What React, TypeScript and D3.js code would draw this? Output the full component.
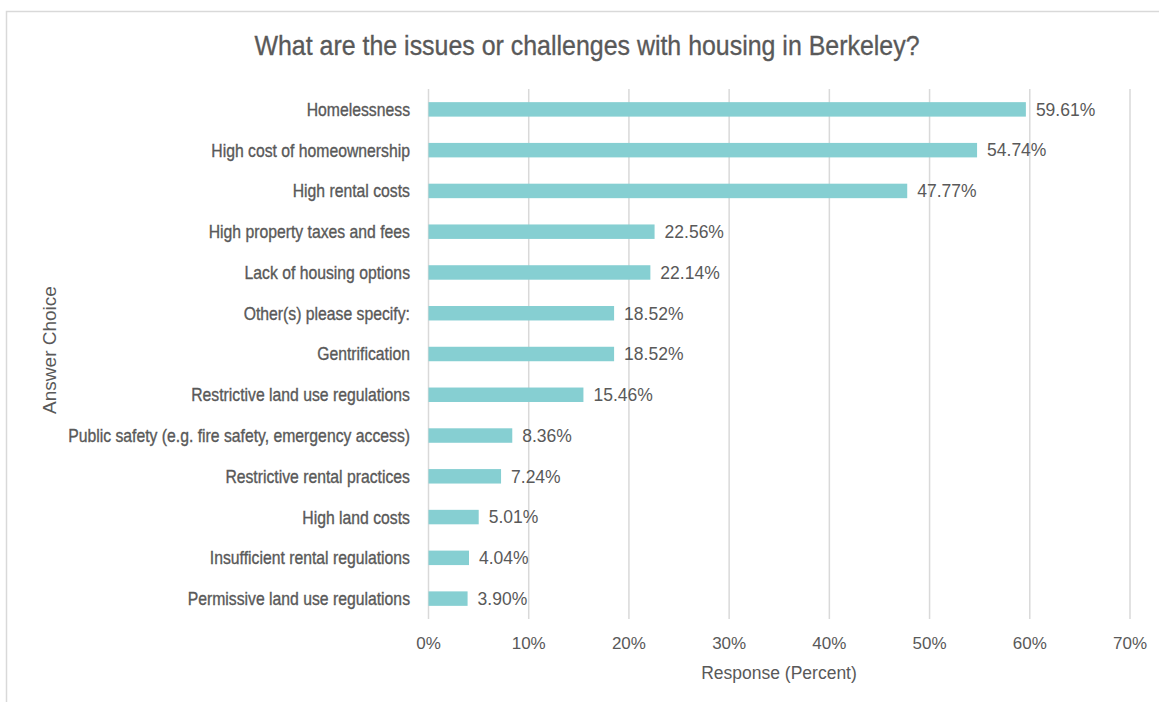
import React from "react";
import * as d3 from "d3";

const categories: string[] = [
  "Homelessness",
  "High cost of homeownership",
  "High rental costs",
  "High property taxes and fees",
  "Lack of housing options",
  "Other(s) please specify:",
  "Gentrification",
  "Restrictive land use regulations",
  "Public safety (e.g. fire safety, emergency access)",
  "Restrictive rental practices",
  "High land costs",
  "Insufficient rental regulations",
  "Permissive land use regulations",
];
const values: number[] = [59.61, 54.74, 47.77, 22.56, 22.14, 18.52, 18.52, 15.46, 8.36, 7.24, 5.01, 4.04, 3.9];
const xTicks: number[] = [0, 10, 20, 30, 40, 50, 60, 70];

const title = "What are the issues or challenges with housing in Berkeley?";
const xTitle = "Response (Percent)";
const yTitle = "Answer Choice";

const W = 1159;
const H = 702;
const TEXT = "#595959";
const GRID = "#d9d9d9";
const BAR = "#86cfd2";
const REG = "'Liberation Sans', Arial, sans-serif";
const COND = 0.875;

export default function App() {
  const x = d3.scaleLinear().domain([0, 70]).range([428.5, 1130]);
  const y = d3
    .scaleBand<string>()
    .domain(categories)
    .range([89, 619])
    .paddingInner(0.645)
    .paddingOuter(0.3225);

  return (
    <svg
      width={W}
      height={H}
      style={{ position: "absolute", left: 0, top: 0, background: "#fff" }}
    >
      <rect x={6.5} y={11.5} width={1165} height={720} fill="#fff" stroke={GRID} strokeWidth={1.5} />
      <text
        transform={`translate(587,55) scale(${COND},1)`}
        textAnchor="middle"
        fontFamily={REG}
        fontSize={28.5}
        fill={TEXT}
        stroke={TEXT}
        strokeWidth={0.35}
      >
        {title}
      </text>
      {xTicks.map((t) => (
        <line key={t} x1={x(t)} x2={x(t)} y1={89} y2={619} stroke={GRID} strokeWidth={1.5} />
      ))}
      {categories.map((c, i) => {
        const cy = (y(c) as number) + y.bandwidth() / 2;
        return (
          <g key={c}>
            <rect
              x={x(0)}
              y={y(c)}
              width={x(values[i]) - x(0)}
              height={y.bandwidth()}
              fill={BAR}
            />
            <text
              transform={`translate(410,${cy}) scale(${COND},1)`}
              dy="0.36em"
              textAnchor="end"
              fontFamily={REG}
              fontSize={18}
              fill={TEXT}
              stroke={TEXT}
              strokeWidth={0.35}
            >
              {c}
            </text>
            <text
              x={x(values[i]) + 10}
              y={cy}
              dy="0.36em"
              fontFamily={REG}
              fontSize={17.5}
              fill={TEXT}
            >
              {values[i].toFixed(2) + "%"}
            </text>
          </g>
        );
      })}
      {xTicks.map((t) => (
        <text
          key={"l" + t}
          x={x(t)}
          y={649}
          textAnchor="middle"
          fontFamily={REG}
          fontSize={17}
          fill={TEXT}
        >
          {t + "%"}
        </text>
      ))}
      <text x={779} y={679} textAnchor="middle" fontFamily={REG} fontSize={17.5} fill={TEXT}>
        {xTitle}
      </text>
      <text
        transform="translate(56,350) rotate(-90)"
        textAnchor="middle"
        fontFamily={REG}
        fontSize={19}
        fill={TEXT}
      >
        {yTitle}
      </text>
    </svg>
  );
}
